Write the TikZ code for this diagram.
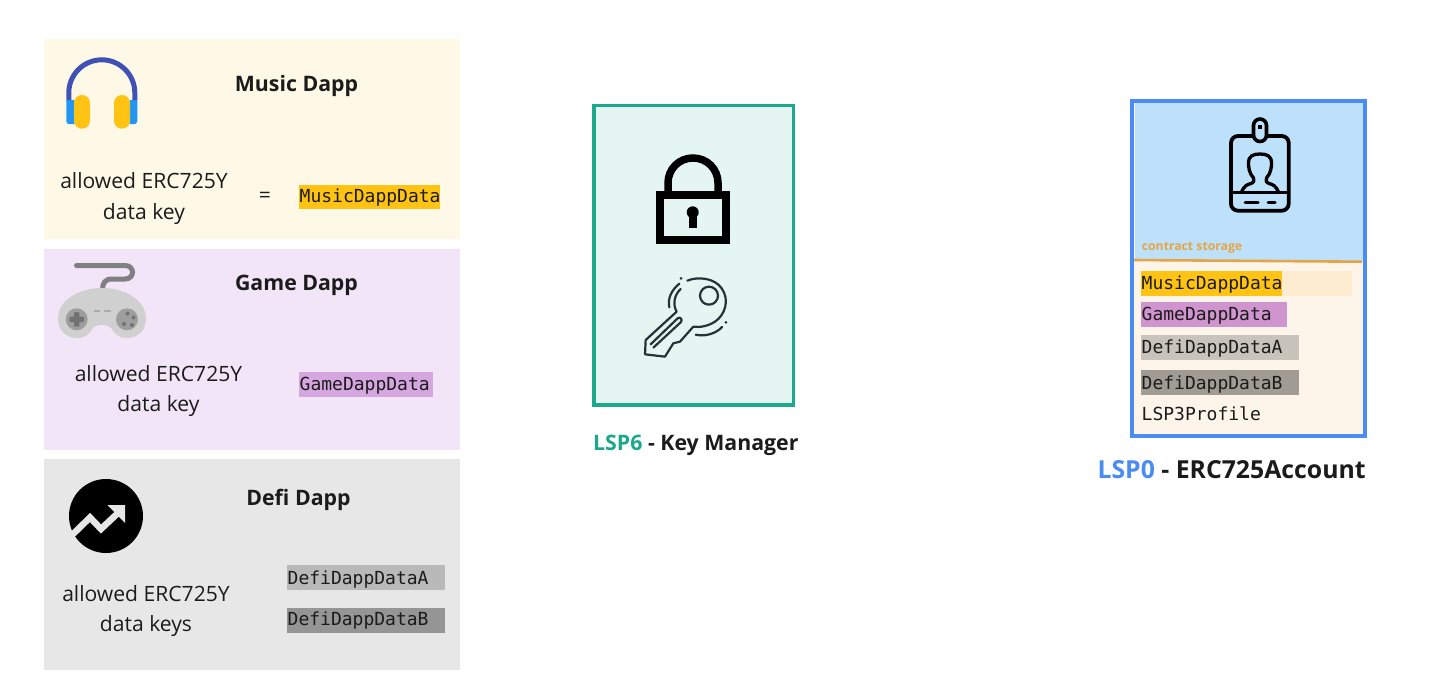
\documentclass[tikz,border=0pt]{standalone}
\usepackage{fontspec}
\setmainfont{Open Sans}
\setmonofont{DejaVu Sans Mono}
\definecolor{ink}{HTML}{1B1B1B}
\definecolor{musicbg}{HTML}{FEF8E7}
\definecolor{gamebg}{HTML}{F3E5F8}
\definecolor{defibg}{HTML}{E7E7E7}
\definecolor{musichl}{HTML}{FFC413}
\definecolor{gamehl}{HTML}{D5A6E0}
\definecolor{defiahl}{HTML}{B9B9B9}
\definecolor{defibhl}{HTML}{959595}
\definecolor{lspgreen}{HTML}{1BA88C}
\definecolor{greenbg}{HTML}{E5F5F2}
\definecolor{lspblue}{HTML}{4A8CF2}
\definecolor{bluebg}{HTML}{BDE0FB}
\definecolor{creambg}{HTML}{FDF5EA}
\definecolor{storeorange}{HTML}{E5A544}
\definecolor{keyink}{HTML}{263238}
\definecolor{earblue}{HTML}{2196F3}
\definecolor{bandblue}{HTML}{3F51B5}
\definecolor{cordgray}{HTML}{808082}
\definecolor{padgray}{HTML}{D0D0D0}
\definecolor{btngray}{HTML}{9E9E9E}
\definecolor{crossgray}{HTML}{727272}
\definecolor{dashgray}{HTML}{ABABAB}
\definecolor{acmpale}{HTML}{FDECD0}
\definecolor{acgame}{HTML}{D094CF}
\definecolor{acdefia}{HTML}{C8C4BC}
\definecolor{acdefib}{HTML}{A09C94}
\tikzset{
  txt/.style={anchor=base,inner sep=0pt,text=ink,font=\fontsize{21.1}{21}\selectfont},
  head/.style={anchor=base,inner sep=0pt,text=ink,font=\fontsize{21.3}{21}\selectfont\bfseries},
  code/.style={anchor=base west,inner sep=0pt,text=ink,font=\fontsize{18}{18}\selectfont\ttfamily},
}
\begin{document}
\begin{tikzpicture}[x=1pt,y=-1pt]
\fill[white] (0,0) rectangle (1440,694);
\useasboundingbox (0,0) rectangle (1440,694);
% panels
\fill[musicbg] (44,38.5) rectangle (460,239);
\fill[gamebg] (44,249) rectangle (460,450);
\fill[defibg] (44,458.5) rectangle (460,670);
% highlights
\fill[musichl] (299,185) rectangle (440,209);
\fill[gamehl] (299,372) rectangle (433,397);
\fill[defiahl] (287,565) rectangle (445,590);
\fill[defibhl] (287,608) rectangle (445,633);
% panel text
\node[head] (musicT) at (296.5,91) {Music Dapp};
\node[txt] (musicA) at (144,188.5) {allowed ERC725Y};
\node[txt] (musicB) at (144,219.5) {data key};
\node[txt,anchor=center] (eq) at (265,197) {=};
\node[code] (musicK) at (299.5,202.7) {MusicDappData};
\node[head] (gameT) at (296.5,290.5) {Game Dapp};
\node[txt] (gameA) at (158.5,381) {allowed ERC725Y};
\node[txt] (gameB) at (158.5,411.5) {data key};
\node[code] (gameK) at (299.5,390.3) {GameDappData};
\node[head] (defiT) at (298.5,505) {Defi Dapp};
\node[txt] (defiA) at (146,601) {allowed ERC725Y};
\node[txt] (defiB) at (146,631) {data keys};
\node[code] (defiKA) at (287.5,584.3) {DefiDappDataA};
\node[code] (defiKB) at (287.5,625.7) {DefiDappDataB};
% headphones
\fill[earblue] (74.5,100) -- (66.3,100) -- (66.3,121) .. controls (66.3,123) and (67.5,124) .. (69,124) -- (74.5,124) -- cycle;
\fill[earblue] (129.5,100) -- (137.3,100) -- (137.3,121) .. controls (137.3,123) and (136,124) .. (134.5,124) -- (129.5,124) -- cycle;
\draw[line width=5pt,bandblue] (68.8,100) -- (68.8,92.8) .. controls (68.8,74.5) and (83.7,59.8) .. (101.8,59.8) .. controls (119.9,59.8) and (134.8,74.5) .. (134.8,92.8) -- (134.8,100);
\fill[musichl,rounded corners=7.9pt] (74,95) rectangle (90,128.7);
\fill[musichl,rounded corners=7.9pt] (114,95) rectangle (130,128.7);
% controller
\draw[line width=5pt,cordgray,line cap=round] (76.5,265.5) -- (125,265.5) .. controls (135,265.5) and (135,279) .. (125,279) -- (112,279) .. controls (105,279) and (102.5,283) .. (102.5,290);
\fill[padgray] (102,288) .. controls (125,288) and (146,300) .. (146,319) .. controls (146,331) and (137,338) .. (127,338) .. controls (118,338) and (114,333) .. (111,328) .. controls (108,324) and (96,324) .. (93,328) .. controls (90,333) and (86,338) .. (77,338) .. controls (67,338) and (58,331) .. (58,319) .. controls (58,300) and (79,288) .. (102,288) -- cycle;
\fill[btngray] (76.7,319.3) circle[radius=11];
\fill[btngray] (127,319.3) circle[radius=11];
\fill[crossgray,rounded corners=1pt] (74,312) rectangle (79.4,326.6);
\fill[crossgray,rounded corners=1pt] (69.4,316.6) rectangle (84,322);
\fill[crossgray] (127.5,313.5) circle[radius=2];
\fill[crossgray] (133.5,317.5) circle[radius=2];
\fill[crossgray] (124,324) circle[radius=2];
\fill[crossgray] (132,325) circle[radius=2];
\draw[line width=1.5pt,dashgray] (94,311) -- (100,311) (104,311) -- (111,311);
% defi icon
\fill[black] (106,516) circle[radius=37];
\draw[defibg,line width=6.5pt,miter limit=10] (71,536) -- (90,517.5) -- (101,529) -- (118,513);
\fill[defibg] (125,505) -- (125,523) -- (107.5,505) -- cycle;
% key manager
\draw[lspgreen,fill=greenbg,line width=3.3pt] (594,105.5) rectangle (793.5,405);
\draw[black,line width=7.5pt] (668,191) -- (668,183) .. controls (668,169) and (679,158) .. (693,158) .. controls (707,158) and (718,169) .. (718,183) -- (718,191);
\draw[black,line width=7.8pt] (660,194.6) rectangle (726,240);
\fill[black] (692.7,212.3) circle[radius=6];
\fill[black] (688.7,212.3) rectangle (696.7,227.7);
% key (zoom coordinates scaled by 1/3)
\begin{scope}[xshift=630pt,yshift=-265pt,x=0.3333pt,y=-0.3333pt]
\draw[keyink,line width=2.2pt,line cap=round,line join=round]
 (172,47) .. controls (205,33) and (255,40) .. (275,70)
 .. controls (300,105) and (285,150) .. (255,170)
 .. controls (235,183) and (210,188) .. (190,185)
 -- (150,230) -- (130,235) -- (105,275) -- (45,268) -- (47,225) -- (140,140)
 .. controls (128,120) and (132,90) .. (152,72);
\draw[keyink,line width=2.2pt] (237,92) circle[radius=27];
\draw[keyink,line width=2.2pt,line cap=round,line join=round]
 (62,238) -- (143,160) .. controls (150,153) and (160,165) .. (152,172) -- (70,248);
\draw[keyink,line width=2.2pt,line cap=round] (148,56) .. controls (125,75) and (112,100) .. (118,127);
\draw[keyink,line width=2.2pt,line cap=round] (197,209) .. controls (225,216) and (260,205) .. (276,186);
\fill[keyink] (153,40) circle[radius=4.5];
\fill[keyink] (288,172) circle[radius=4.5];
\end{scope}
\node[head,anchor=base west,font=\fontsize{21.3}{21}\selectfont\bfseries] (lsp6) at (593,450) {\textcolor{lspgreen}{LSP6} - Key Manager};
% account
\fill[bluebg] (1131.7,101) rectangle (1364.7,260.5);
\fill[creambg] (1131.7,260.5) rectangle (1364.7,436.3);
\draw[white,line width=1pt] (1134.2,103) -- (1134.2,258);
\draw[storeorange,line width=2.6pt] (1133,260) -- (1362,261.7);
\draw[lspblue,line width=4pt] (1131.7,101) rectangle (1364.7,436.3);
\node[anchor=base west,inner sep=0pt,text=storeorange,font=\fontsize{12.2}{12}\selectfont\bfseries] (store) at (1141.7,250) {contract storage};
\fill[acmpale] (1141,271) rectangle (1351.7,295.7);
\fill[musichl] (1141,271) rectangle (1282,295.7);
\fill[acgame] (1141,302) rectangle (1286.7,326.7);
\fill[acdefia] (1141,335) rectangle (1299,359.7);
\fill[acdefib] (1141,370.3) rectangle (1299,395);
\node[code] (acM) at (1141.5,289.3) {MusicDappData};
\node[code] (acG) at (1141.5,320.7) {GameDappData};
\node[code] (acA) at (1141.5,353.3) {DefiDappDataA};
\node[code] (acB) at (1141.5,389.3) {DefiDappDataB};
\node[code] (acL) at (1141.5,420.7) {LSP3Profile};
\node[head,anchor=base west,font=\fontsize{24.8}{25}\selectfont\bfseries] (lsp0) at (1097.3,478.3) {\textcolor{lspblue}{LSP0} - ERC725Account};
% badge
\draw[black,line width=3.8pt,rounded corners=7pt] (1231,136) rectangle (1288.7,210.7);
\draw[black,line width=2.5pt] (1231,192.7) -- (1288.7,192.7);
\draw[black,fill=bluebg,line width=3.6pt,rounded corners=6.5pt] (1253.5,119) rectangle (1266.5,141.5);
\fill[black] (1258,125) rectangle (1262,128.5);
\draw[black,line width=3.3pt,line cap=round,line join=round] (1241.5,192) .. controls (1244,186) and (1247,184.5) .. (1251,183.5) .. controls (1254,182.5) and (1254.5,180) .. (1253.5,178) .. controls (1249,173) and (1248.5,167) .. (1248.5,163) .. controls (1248.5,156) and (1253,154) .. (1260,154) .. controls (1267,154) and (1271.5,156) .. (1271.5,163) .. controls (1271.5,167) and (1271,173) .. (1266.5,178) .. controls (1265.5,180) and (1266,182.5) .. (1269,183.5) .. controls (1273,184.5) and (1276,186) .. (1278.5,192);
\draw[black,line width=3pt,line cap=round] (1245,202.3) -- (1258,202.3) (1268,202.3) -- (1275,202.3);
\end{tikzpicture}
\end{document}
